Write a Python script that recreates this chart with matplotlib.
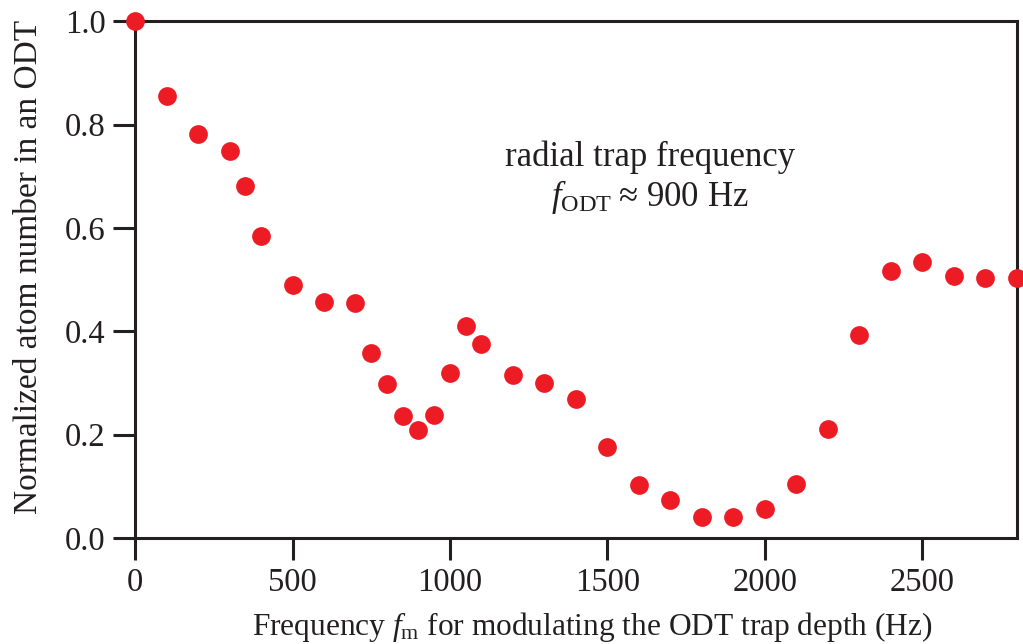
import numpy as np
import matplotlib
matplotlib.use("Agg")
import matplotlib.pyplot as plt

plt.rcParams['font.family'] = ['Liberation Serif', 'DejaVu Serif']
plt.rcParams['mathtext.fontset'] = 'custom'
plt.rcParams['mathtext.rm'] = 'Liberation Serif'
plt.rcParams['mathtext.it'] = 'Liberation Serif:italic'

# modulation frequency (Hz) and normalized atom number
freq = [0, 100, 200, 300, 350, 400, 500, 600, 700, 750, 800, 850, 900, 950,
        1000, 1050, 1100, 1200, 1300, 1400, 1500, 1600, 1700, 1800, 1900,
        2000, 2100, 2200, 2300, 2400, 2500, 2600, 2700, 2800]
atoms = [1.0, 0.855, 0.781, 0.749, 0.681, 0.584, 0.489, 0.456, 0.455, 0.358,
         0.298, 0.236, 0.209, 0.238, 0.319, 0.410, 0.375, 0.315, 0.300, 0.269,
         0.176, 0.103, 0.074, 0.041, 0.041, 0.056, 0.104, 0.211, 0.393, 0.516,
         0.534, 0.507, 0.503, 0.503]

xticks = [0, 500, 1000, 1500, 2000, 2500]
yticks = [0.0, 0.2, 0.4, 0.6, 0.8, 1.0]

fig = plt.figure(figsize=(10.23, 6.44), dpi=100)
ax = fig.add_axes([0.132, 0.1646, 0.862, 0.8024])

ax.plot(freq, atoms, 'o', color='#ED1C24', markersize=13.5,
        markeredgewidth=0, clip_on=False, zorder=3)

ax.set_xlim(0, 2800)
ax.set_ylim(0, 1.0)
ax.set_xticks(xticks)
ax.set_yticks(yticks)
ax.set_yticklabels([f"{v:.1f}" for v in yticks])

for s in ax.spines.values():
    s.set_linewidth(2.2)
    s.set_color('#231F20')
ax.tick_params(direction='out', length=16, width=2.2, color='#231F20',
               labelsize=23.5, pad=5, labelcolor='#231F20')

ax.set_xlabel(r"Frequency $f_{\mathrm{m}}$ for modulating the ODT trap depth (Hz)",
              fontsize=22.6, color='#231F20')
ax.xaxis.set_label_coords(0.519, -0.139)
ax.set_ylabel("Normalized atom number in an ODT", fontsize=24,
              color='#231F20')
ax.yaxis.set_label_coords(-0.103, 0.524)

ax.text(1635, 0.696, "radial trap frequency\n" + r"$f_{\mathrm{ODT}}$" + "\u2009\u2248 900 Hz",
        ha='center', va='center', fontsize=25, color='#231F20',
        linespacing=1.15)

fig.savefig("out.png", dpi=100)
